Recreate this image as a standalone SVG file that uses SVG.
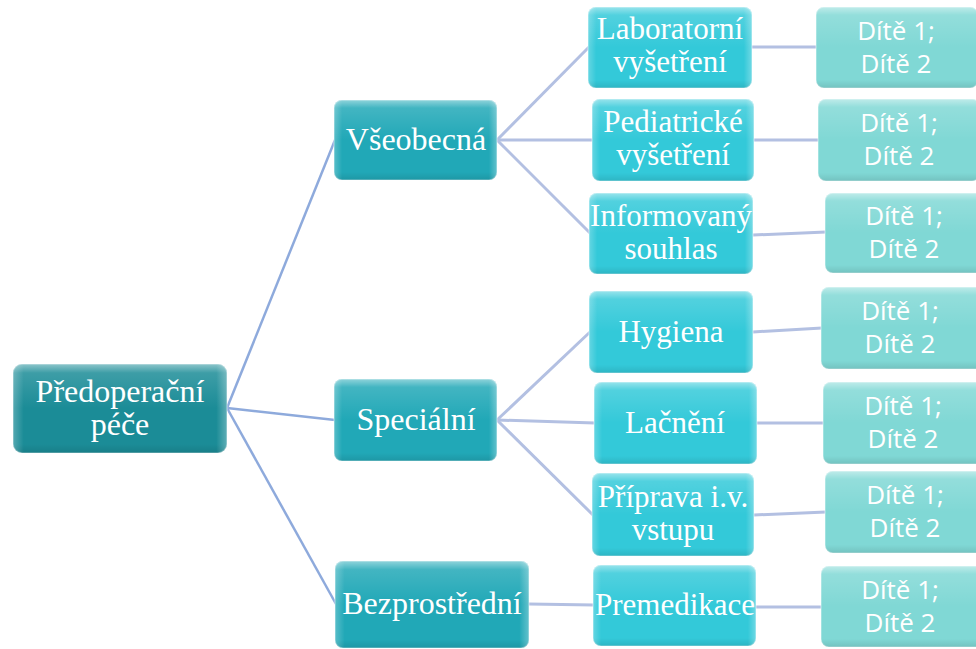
<svg xmlns="http://www.w3.org/2000/svg" width="976" height="649" viewBox="0 0 976 649">
<defs>
<linearGradient id="gloss" x1="0" y1="0" x2="0" y2="1">
<stop offset="0" stop-color="#ffffff" stop-opacity="0.5"/>
<stop offset="0.1" stop-color="#ffffff" stop-opacity="0.15"/>
<stop offset="0.5" stop-color="#ffffff" stop-opacity="0"/>
<stop offset="0.9" stop-color="#000000" stop-opacity="0"/>
<stop offset="1" stop-color="#000000" stop-opacity="0.1"/>
</linearGradient>
<linearGradient id="side" x1="0" y1="0" x2="1" y2="0">
<stop offset="0" stop-color="#ffffff" stop-opacity="0.25"/>
<stop offset="0.05" stop-color="#ffffff" stop-opacity="0"/>
<stop offset="0.95" stop-color="#ffffff" stop-opacity="0"/>
<stop offset="1" stop-color="#ffffff" stop-opacity="0.3"/>
</linearGradient>
</defs>
<style>
.box{stroke:#ffffff;stroke-opacity:0.35;stroke-width:1.5}
.l0{fill:#1b8c97}
.l1{fill:#21a8b7}
.l2{fill:#33c9d9}
.l3{fill:#80d8d5}
.gl{fill:url(#gloss)}
.sd{fill:url(#side)}
.t{font-family:"Liberation Serif","Times New Roman",serif;font-size:31px;fill:#ffffff;text-anchor:middle}
.t0{font-size:32px}
.t1{font-size:32px}
.s{font-family:"Open Sans","Noto Sans",sans-serif;font-size:26px;fill:#ffffff;text-anchor:middle}
.c0{stroke:#8eaadc;stroke-width:2.5;fill:none}
.c1{stroke:#b3c0e2;stroke-width:3;fill:none}
</style>
<rect width="976" height="649" fill="#ffffff"/>
<g id="connectors">
<line class="c0" x1="227" y1="408" x2="335" y2="140"/>
<line class="c0" x1="227" y1="408" x2="335" y2="420"/>
<line class="c0" x1="227" y1="408" x2="336" y2="604"/>
<line class="c1" x1="497" y1="140" x2="589" y2="47"/>
<line class="c1" x1="497" y1="140" x2="593" y2="140"/>
<line class="c1" x1="497" y1="140" x2="590" y2="233"/>
<line class="c1" x1="497" y1="420" x2="590" y2="332"/>
<line class="c1" x1="497" y1="420" x2="595" y2="423"/>
<line class="c1" x1="497" y1="420" x2="593" y2="515"/>
<line class="c1" x1="529" y1="604" x2="594" y2="605"/>
<line class="c1" x1="752" y1="47" x2="817" y2="47"/>
<line class="c1" x1="754" y1="140" x2="819" y2="140"/>
<line class="c1" x1="753" y1="235" x2="826" y2="232"/>
<line class="c1" x1="753" y1="332" x2="822" y2="328"/>
<line class="c1" x1="757" y1="423" x2="824" y2="423"/>
<line class="c1" x1="754" y1="515" x2="826" y2="512"/>
<line class="c1" x1="756" y1="607" x2="822" y2="607"/>
</g>
<g id="n-root">
<rect class="l0 box" x="13" y="364" width="214" height="89" rx="9"/>
<rect class="gl" x="13" y="364" width="214" height="89" rx="9"/>
<rect class="sd" x="13" y="364" width="214" height="89" rx="9"/>
<text class="t t0" x="120" y="402">Předoperační</text>
<text class="t t0" x="120" y="435">péče</text>
</g>
<g id="n-vseobecna">
<rect class="l1 box" x="334" y="100" width="163" height="80" rx="8"/>
<rect class="gl" x="334" y="100" width="163" height="80" rx="8"/>
<rect class="sd" x="334" y="100" width="163" height="80" rx="8"/>
<text class="t t1" x="416" y="150">Všeobecná</text>
</g>
<g id="n-specialni">
<rect class="l1 box" x="334" y="379" width="163" height="82" rx="8"/>
<rect class="gl" x="334" y="379" width="163" height="82" rx="8"/>
<rect class="sd" x="334" y="379" width="163" height="82" rx="8"/>
<text class="t t1" x="416" y="430">Speciální</text>
</g>
<g id="n-bezprostredni">
<rect class="l1 box" x="335" y="561" width="194" height="87" rx="8"/>
<rect class="gl" x="335" y="561" width="194" height="87" rx="8"/>
<rect class="sd" x="335" y="561" width="194" height="87" rx="8"/>
<text class="t t1" x="432" y="614">Bezprostřední</text>
</g>
<g id="n-laboratorni">
<rect class="l2 box" x="588" y="7" width="164" height="81" rx="8"/>
<rect class="gl" x="588" y="7" width="164" height="81" rx="8"/>
<rect class="sd" x="588" y="7" width="164" height="81" rx="8"/>
<text class="t" x="670" y="39">Laboratorní</text>
<text class="t" x="670" y="72">vyšetření</text>
</g>
<g id="n-pediatricke">
<rect class="l2 box" x="592" y="99" width="162" height="82" rx="8"/>
<rect class="gl" x="592" y="99" width="162" height="82" rx="8"/>
<rect class="sd" x="592" y="99" width="162" height="82" rx="8"/>
<text class="t" x="673" y="132">Pediatrické</text>
<text class="t" x="673" y="165">vyšetření</text>
</g>
<g id="n-informovany">
<rect class="l2 box" x="589" y="193" width="164" height="81" rx="8"/>
<rect class="gl" x="589" y="193" width="164" height="81" rx="8"/>
<rect class="sd" x="589" y="193" width="164" height="81" rx="8"/>
<text class="t" x="671" y="226">Informovaný</text>
<text class="t" x="671" y="259">souhlas</text>
</g>
<g id="n-hygiena">
<rect class="l2 box" x="589" y="291" width="164" height="82" rx="8"/>
<rect class="gl" x="589" y="291" width="164" height="82" rx="8"/>
<rect class="sd" x="589" y="291" width="164" height="82" rx="8"/>
<text class="t" x="671" y="342">Hygiena</text>
</g>
<g id="n-lacneni">
<rect class="l2 box" x="594" y="382" width="163" height="82" rx="8"/>
<rect class="gl" x="594" y="382" width="163" height="82" rx="8"/>
<rect class="sd" x="594" y="382" width="163" height="82" rx="8"/>
<text class="t" x="675" y="433">Lačnění</text>
</g>
<g id="n-priprava">
<rect class="l2 box" x="592" y="473" width="162" height="83" rx="8"/>
<rect class="gl" x="592" y="473" width="162" height="83" rx="8"/>
<rect class="sd" x="592" y="473" width="162" height="83" rx="8"/>
<text class="t" x="673" y="507">Příprava i.v.</text>
<text class="t" x="673" y="540">vstupu</text>
</g>
<g id="n-premedikace">
<rect class="l2 box" x="593" y="565" width="163" height="81" rx="8"/>
<rect class="gl" x="593" y="565" width="163" height="81" rx="8"/>
<rect class="sd" x="593" y="565" width="163" height="81" rx="8"/>
<text class="t" x="675" y="615">Premedikace</text>
</g>
<g id="n-d1">
<rect class="l3 box" x="816" y="7" width="162" height="81" rx="8"/>
<rect class="gl" x="816" y="7" width="162" height="81" rx="8"/>
<text class="s" x="896" y="40">Dítě 1;</text>
<text class="s" x="896" y="73">Dítě 2</text>
</g>
<g id="n-d2">
<rect class="l3 box" x="818" y="99" width="162" height="82" rx="8"/>
<rect class="gl" x="818" y="99" width="162" height="82" rx="8"/>
<text class="s" x="899" y="132">Dítě 1;</text>
<text class="s" x="899" y="165">Dítě 2</text>
</g>
<g id="n-d3">
<rect class="l3 box" x="825" y="193" width="162" height="80" rx="8"/>
<rect class="gl" x="825" y="193" width="162" height="80" rx="8"/>
<text class="s" x="904" y="225">Dítě 1;</text>
<text class="s" x="904" y="258">Dítě 2</text>
</g>
<g id="n-d4">
<rect class="l3 box" x="821" y="287" width="162" height="82" rx="8"/>
<rect class="gl" x="821" y="287" width="162" height="82" rx="8"/>
<text class="s" x="900" y="320">Dítě 1;</text>
<text class="s" x="900" y="353">Dítě 2</text>
</g>
<g id="n-d5">
<rect class="l3 box" x="823" y="382" width="162" height="82" rx="8"/>
<rect class="gl" x="823" y="382" width="162" height="82" rx="8"/>
<text class="s" x="903" y="415">Dítě 1;</text>
<text class="s" x="903" y="448">Dítě 2</text>
</g>
<g id="n-d6">
<rect class="l3 box" x="825" y="471" width="162" height="82" rx="8"/>
<rect class="gl" x="825" y="471" width="162" height="82" rx="8"/>
<text class="s" x="905" y="504">Dítě 1;</text>
<text class="s" x="905" y="537">Dítě 2</text>
</g>
<g id="n-d7">
<rect class="l3 box" x="821" y="566" width="162" height="81" rx="8"/>
<rect class="gl" x="821" y="566" width="162" height="81" rx="8"/>
<text class="s" x="900" y="599">Dítě 1;</text>
<text class="s" x="900" y="632">Dítě 2</text>
</g>
</svg>
